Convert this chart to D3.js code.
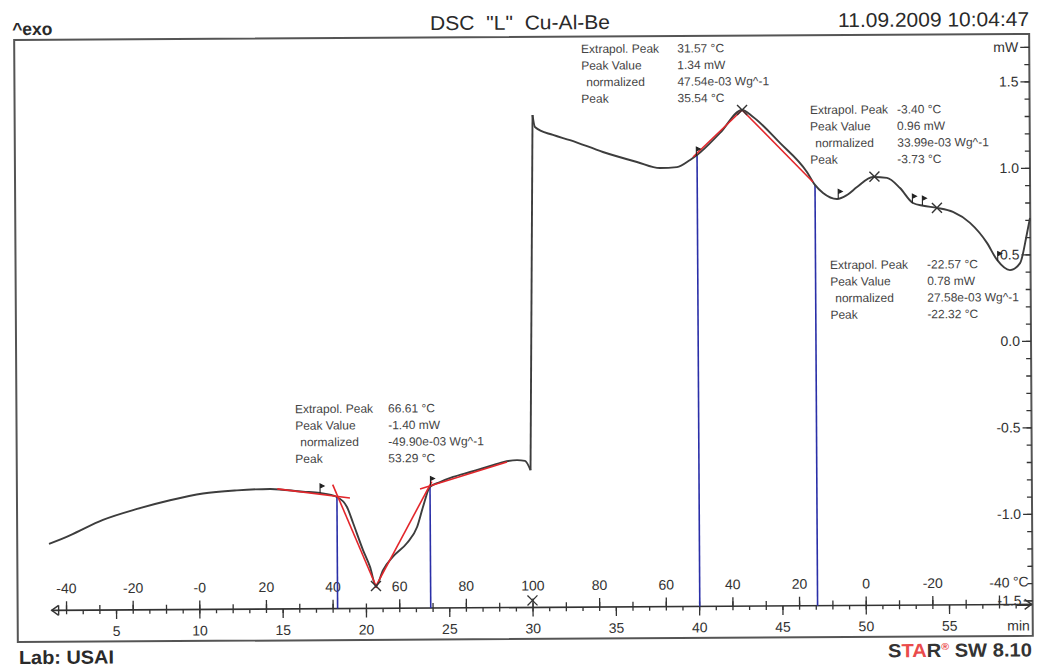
<!DOCTYPE html>
<html><head><meta charset="utf-8">
<script src="https://cdn.jsdelivr.net/npm/d3@7"></script>
<style>
body{margin:0;background:#fff}
svg text{font-family:"Liberation Sans",Arial,sans-serif}
</style>
</head><body>
<svg id="c" width="1039" height="668"></svg>
<script>
// ---------- data ----------
// heating run (time in min, heat flow in mW)
const heatTime   = [1.00, 2.26, 4.25, 6.30, 8.28, 10.26, 12.30, 14.29, 16.27, 17.29, 18.30, 18.90, 19.26, 19.84, 20.26, 20.61, 21.04, 21.64, 22.49, 23.10, 23.46, 23.89, 24.49, 25.28, 26.30, 27.32, 28.28, 29.12, 29.60, 29.93];
const heatSignal = [-1.139, -1.090, -1.002, -0.940, -0.891, -0.853, -0.836, -0.829, -0.846, -0.854, -0.878, -0.936, -1.029, -1.184, -1.283, -1.394, -1.302, -1.225, -1.146, -1.054, -0.939, -0.823, -0.795, -0.766, -0.738, -0.710, -0.682, -0.671, -0.676, -0.730];
// cooling run
const coolTime   = [30.18, 30.32, 31.40, 32.42, 34.39, 36.43, 37.81, 38.83, 39.62, 40.04, 41.43, 42.76, 43.42, 45.02, 46.63, 47.11, 47.59, 48.43, 49.03, 49.63, 50.59, 51.43, 52.21, 52.98, 53.60, 54.42, 55.38, 56.40, 57.41, 58.01, 58.78, 59.39, 59.82, 60.00];
const coolSignal = [1.323, 1.254, 1.207, 1.177, 1.107, 1.048, 1.012, 1.017, 1.058, 1.086, 1.213, 1.345, 1.304, 1.153, 0.984, 0.909, 0.862, 0.827, 0.850, 0.895, 0.953, 0.947, 0.888, 0.801, 0.785, 0.772, 0.748, 0.684, 0.568, 0.469, 0.410, 0.450, 0.624, 0.710];

const timeTicks   = [5, 10, 15, 20, 25, 30, 35, 40, 45, 50, 55];
const signalTicks = [-1.5, -1.0, -0.5, 0.0, 0.5, 1.0, 1.5];
const signalUnitAt = 1.7;
const heatTempLabels = [-40, -20, 0, 20, 40, 60, 80, 100];
const heatTempText   = ["-40", "-20", "-0", "20", "40", "60", "80", "100"];
const coolTempLabels = [80, 60, 40, 20, 0, -20, -40];
const coolTempText   = ["80", "60", "40", "20", "0", "-20", "-40"];

// evaluation marks
const limitTime   = [18.30, 23.89, 40.04, 47.11];
const limitSignal = [-0.878, -0.823, 1.086, 0.909];
const peakTime    = [20.61, 42.76, 50.68, 54.42];
const peakSignal  = [-1.394, 1.345, 0.955, 0.772];
const flagTime    = [17.29, 23.92, 40.00, 48.50, 52.95, 53.55, 58.05];
const flagSignal  = [-0.854, -0.815, 1.080, 0.830, 0.800, 0.788, 0.465];
// red construction lines [t1, v1, t2, v2]
const baseLines = [
  [14.72, -0.829, 19.08, -0.884],
  [18.05, -0.806, 20.66, -1.405],
  [20.56, -1.403, 24.00, -0.792],
  [23.29, -0.835, 28.52, -0.682],
  [39.80, 1.075, 42.76, 1.345],
  [42.76, 1.345, 46.99, 0.926]
];

const annotLabels = ["Extrapol. Peak", "Peak Value", "normalized", "Peak"];
const annotA = ["31.57 °C", "1.34 mW", "47.54e-03 Wg^-1", "35.54 °C"];
const annotB = ["-3.40 °C", "0.96 mW", "33.99e-03 Wg^-1", "-3.73 °C"];
const annotC = ["-22.57 °C", "0.78 mW", "27.58e-03 Wg^-1", "-22.32 °C"];
const annotD = ["66.61 °C", "-1.40 mW", "-49.90e-03 Wg^-1", "53.29 °C"];

// ---------- drawing ----------
const svg = d3.select("#c");
svg.append("rect").attr("width",1039).attr("height",668).attr("fill","#fff");
const g = svg.append("g").attr("transform","rotate(-0.35 520 340)");

const x = d3.scaleLinear().domain([0, 60]).range([31.1, 1030.7]);
const y = d3.scaleLinear().domain([0, 1]).range([344, 171]);
const axisY = 607.5;
const ink = "#333";

// frame
g.append("rect").attr("x",16).attr("y",37).attr("width",1015).attr("height",602)
  .attr("fill","none").attr("stroke","#555").attr("stroke-width",2);

// right signal axis
const minorSig = d3.range(-15, 18).map(d => d / 10);
g.append("g").attr("transform","translate(1031,0)")
  .call(d3.axisLeft(y).tickValues(minorSig).tickSize(5).tickFormat(""))
  .call(a => a.select(".domain").remove())
  .call(a => a.selectAll("line").attr("stroke",ink).attr("stroke-width",1.3));
g.append("g").attr("transform","translate(1031,0)")
  .call(d3.axisLeft(y).tickValues(signalTicks.concat([signalUnitAt])).tickSize(9).tickPadding(2)
        .tickFormat(d => d > 1.6 ? "mW" : d.toFixed(1)))
  .call(a => a.select(".domain").remove())
  .call(a => a.selectAll("line").attr("stroke",ink).attr("stroke-width",1.3))
  .call(a => a.selectAll("text").attr("fill",ink).style("font-size","14px"));

// bottom axis line
g.append("path").attr("d",`M${x(1.13)},${axisY}H1030`).attr("stroke",ink).attr("stroke-width",1.6).attr("fill","none");
g.append("path").attr("d",`M57,${axisY-5}L50,${axisY}L57,${axisY+5}M57,${axisY-5}V${axisY+5}`).attr("stroke",ink).attr("stroke-width",1.4).attr("fill","none");
g.append("path").attr("d",`M1023,${axisY-5}L1030,${axisY}L1023,${axisY+5}`).attr("stroke",ink).attr("stroke-width",1.4).attr("fill","none");

// time ticks (down)
g.append("g").attr("transform",`translate(0,${axisY})`)
  .call(d3.axisBottom(x).tickValues(d3.range(2, 60)).tickSize(4).tickFormat(""))
  .call(a => a.select(".domain").remove())
  .call(a => a.selectAll("line").attr("stroke",ink).attr("stroke-width",1.3));
g.append("g").attr("transform",`translate(0,${axisY})`)
  .call(d3.axisBottom(x).tickValues(timeTicks).tickSize(9).tickPadding(7).tickFormat(d => d))
  .call(a => a.select(".domain").remove())
  .call(a => a.selectAll("line").attr("stroke",ink).attr("stroke-width",1.3))
  .call(a => a.selectAll("text").attr("fill",ink).style("font-size","14px"));
g.append("text").attr("x",1028).attr("y",axisY+26).attr("text-anchor","end")
  .attr("fill",ink).style("font-size","14px").text("min");

// temperature ticks (up)
const heatT = T => 2 + (T + 40) / 5;
const coolT = T => 30 + (100 - T) / 5;
const tempMinor = d3.range(-40, 101, 10).map(heatT).concat(d3.range(90, -41, -10).map(coolT));
const tempMajor = heatTempLabels.map(heatT).concat(coolTempLabels.map(coolT));
const tempText  = heatTempText.concat(coolTempText);
g.append("g").attr("transform",`translate(0,${axisY})`)
  .call(d3.axisTop(x).tickValues(tempMinor).tickSize(5).tickFormat(""))
  .call(a => a.select(".domain").remove())
  .call(a => a.selectAll("line").attr("stroke",ink).attr("stroke-width",1.3));
g.append("g").attr("transform",`translate(0,${axisY})`)
  .call(d3.axisTop(x).tickValues(tempMajor).tickSize(9).tickPadding(8)
        .tickFormat((d, i) => tempText[i]))
  .call(a => a.select(".domain").remove())
  .call(a => a.selectAll("line").attr("stroke",ink).attr("stroke-width",1.3))
  .call(a => a.selectAll("text").attr("fill",ink).style("font-size","14px"));
g.append("text").attr("x",x(coolT(-40)) + 14).attr("y",axisY-18)
  .attr("fill",ink).style("font-size","14px").text("°C");
// switch mark at 100 °C
const xs = x(30);
g.append("path").attr("d",`M${xs-5},${axisY-12}L${xs+5},${axisY-2}M${xs+5},${axisY-12}L${xs-5},${axisY-2}`)
  .attr("stroke",ink).attr("stroke-width",1.3).attr("fill","none");

// blue integration limits
g.selectAll(".lim").data(limitTime).join("line")
  .attr("x1",d => x(d)).attr("x2",d => x(d))
  .attr("y1",(d,i) => y(limitSignal[i])).attr("y2",axisY)
  .attr("stroke","#2a2fa8").attr("stroke-width",1.6);

// curve
const line = d3.line().x(d => x(d[0])).y(d => y(d[1])).curve(d3.curveMonotoneX);
const heat = heatTime.map((t,i) => [t, heatSignal[i]]);
const cool = coolTime.map((t,i) => [t, coolSignal[i]]);
const curveStyle = p => p.attr("fill","none").attr("stroke","#3d3d3d").attr("stroke-width",1.9).attr("stroke-linejoin","round");
g.append("path").attr("d", line(heat)).call(curveStyle);
g.append("path").attr("d", d3.line().x(d => x(d[0])).y(d => y(d[1]))([heat[heat.length-1], cool[0]])).call(curveStyle);
g.append("path").attr("d", line(cool)).call(curveStyle);

// red construction lines
g.selectAll(".red").data(baseLines).join("line")
  .attr("x1",d => x(d[0])).attr("y1",d => y(d[1]))
  .attr("x2",d => x(d[2])).attr("y2",d => y(d[3]))
  .attr("stroke","#e3262b").attr("stroke-width",1.6);

// peak crosses
g.selectAll(".pk").data(peakTime).join("path")
  .attr("d",(d,i) => { const cx = x(d), cy = y(peakSignal[i]); return `M${cx-5},${cy-5}L${cx+5},${cy+5}M${cx+5},${cy-5}L${cx-5},${cy+5}`; })
  .attr("stroke","#333").attr("stroke-width",1.4).attr("fill","none");

// flags
g.selectAll(".fl").data(flagTime).join("path")
  .attr("d",(d,i) => { const fx = x(d), fy = y(flagSignal[i]); return `M${fx},${fy}V${fy-9}L${fx+4},${fy-7}L${fx},${fy-5}Z`; })
  .attr("stroke","#222").attr("stroke-width",1.1).attr("fill","#222");

// annotation blocks
function annot(px, py, vx, vals){
  const b = g.append("g").style("font-size","12px").attr("fill","#444");
  annotLabels.forEach((l,i) => {
    b.append("text").attr("x", px + (i === 2 ? 5 : 0)).attr("y", py + i*16.6).text(l);
    b.append("text").attr("x", vx).attr("y", py + i*16.6).text(vals[i]);
  });
}
annot(582.8, 53.5, 679, annotA);
annot(811.4, 115.8, 898.4, annotB);
annot(830.5, 271, 927.5, annotC);
annot(294.6, 411.8, 387.6, annotD);

// header / footer
g.append("text").attr("x",14).attr("y",32).attr("fill","#2a2a2a")
  .style("font-size","17.5px").style("font-weight","bold").text("^exo");
g.append("text").attr("x",432).attr("y",29.5).attr("fill","#2a2a2a")
  .style("font-size","20px").style("white-space","pre")
  .attr("textLength",180).attr("lengthAdjust","spacingAndGlyphs")
  .text('DSC  "L"  Cu-Al-Be');
g.append("text").attr("x",840).attr("y",29).attr("fill","#2a2a2a")
  .style("font-size","20px").attr("textLength",191).attr("lengthAdjust","spacingAndGlyphs")
  .text("11.09.2009 10:04:47");
g.append("text").attr("x",17).attr("y",661).attr("fill","#2a2a2a")
  .style("font-size","19px").style("font-weight","bold")
  .attr("textLength",95).attr("lengthAdjust","spacingAndGlyphs").text("Lab: USAI");
const star = g.append("text").attr("x",886).attr("y",659.5).attr("fill","#333")
  .style("font-size","19px").style("font-weight","bold")
  .attr("textLength",144).attr("lengthAdjust","spacingAndGlyphs");
star.append("tspan").text("S");
star.append("tspan").attr("fill","#ea4b4b").text("TA");
star.append("tspan").text("R");
star.append("tspan").attr("fill","#ea4b4b").attr("dy",-7).style("font-size","10px").text("®");
star.append("tspan").attr("dy",7).text(" SW 8.10");
</script>
</body></html>
